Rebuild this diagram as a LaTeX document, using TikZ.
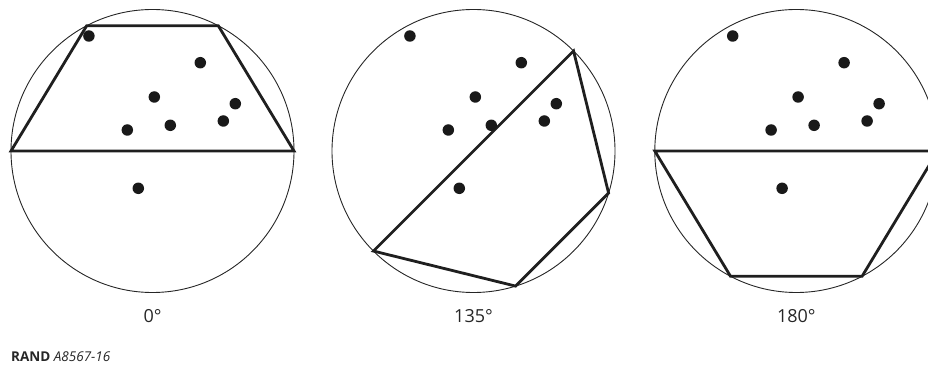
\documentclass[tikz,border=0pt]{standalone}
\usepackage{fontspec}
\setmainfont{Open Sans}
\usetikzlibrary{calc}
\begin{document}
\begin{tikzpicture}[x=1pt,y=1pt,
  rim/.style={draw=black!85, line width=0.9pt},
  poly/.style={draw=black!88, line width=2.8pt, line join=miter},
  pt/.style={circle, fill=black!90, inner sep=0pt, minimum size=11.5pt},
  lab/.style={anchor=base, inner sep=0pt, font=\fontsize{18}{20}\selectfont, text=black!85},
  credit/.style={anchor=base west, inner sep=0pt, font=\fontsize{13.5}{15}\selectfont, text=black!85}]
\useasboundingbox (0,0) rectangle (928,364);
\foreach \cx/\rot/\txt/\nm in {152.5/0/0°/a, 473.5/135/135°/b, 796.3/180/180°/c}{
  \coordinate (c\nm) at (\cx,213);
  \draw[rim] (c\nm) circle[radius=141.5];
  \begin{scope}[shift={(c\nm)}, rotate=-\rot]
    \draw[poly] (0:141.5) -- (62.3:141.5) -- (117.7:141.5) -- (180:141.5) -- cycle;
  \end{scope}
  \foreach \dx/\dy [count=\i] in {-63.6/115, 47.8/88.3, 1.8/54, 82.8/47.3, 70.8/30, 17.8/25.7, -25.2/21, -14.2/-37.3}{
    \node[pt] (d\nm\i) at ($(c\nm)+(\dx,\dy)$) {};
  }
  \node[lab] (l\nm) at (\cx,42) {\txt};
}
\node[credit] (rand) at (11,3) {\textbf{RAND} \textit{A8567-16}};
\end{tikzpicture}
\end{document}
